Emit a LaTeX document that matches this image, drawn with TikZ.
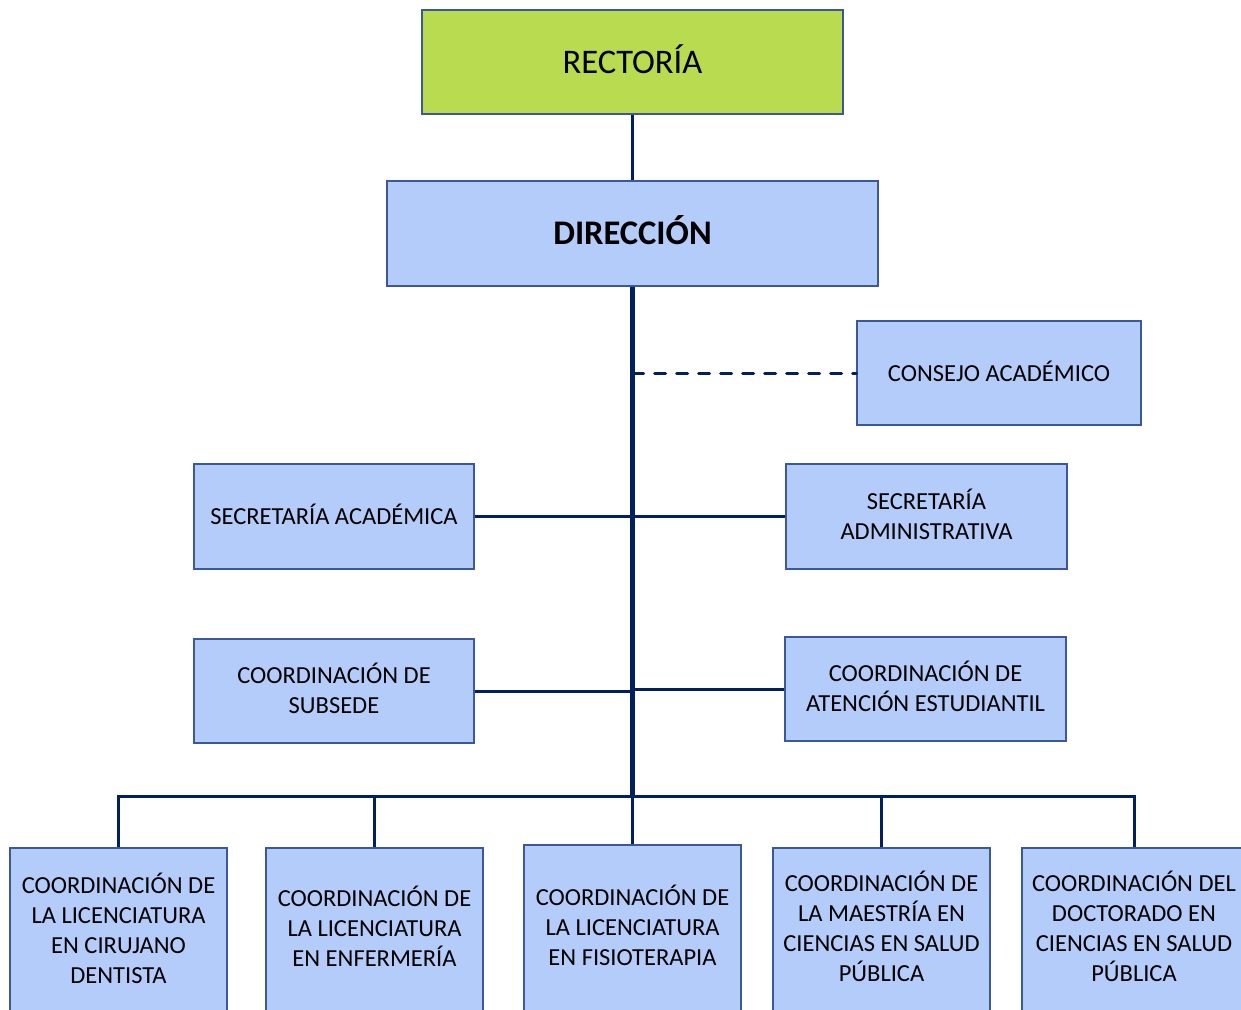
\documentclass[tikz,border=0pt]{standalone}
\usepackage{fontspec}
\setmainfont{Carlito}
\definecolor{rgreen}{RGB}{184,219,80}
\definecolor{bfill}{RGB}{180,204,250}
\definecolor{bdraw}{RGB}{60,88,150}
\definecolor{navy}{RGB}{0,32,96}
\tikzset{
  box/.style={draw=bdraw, line width=1.2pt, fill=bfill, inner sep=0pt, align=center,
    font=\fontsize{24.5}{30}\selectfont, text depth=6pt},
  bigbox/.style={box, font=\fontsize{34.5}{40}\selectfont},
  lowbox/.style={box, text depth=8pt},
  conn/.style={draw=navy, line width=3pt},
  trunk/.style={draw=navy, line width=5pt},
}
\begin{document}
\begin{tikzpicture}[x=1pt,y=-1pt]
\useasboundingbox (0,0) rectangle (1241,1009);
\clip (0,0) rectangle (1241,1009);
\node[bigbox, fill=rgreen, minimum width=421pt, minimum height=104pt] (rect) at (632.5,62) {RECTORÍA};
\node[bigbox, minimum width=491pt, minimum height=105pt, font=\fontsize{34.5}{40}\selectfont\bfseries] (dir) at (632.5,233.5) {DIRECCIÓN};
\node[box, minimum width=284pt, minimum height=104pt, text depth=4pt] (cons) at (999,373) {CONSEJO ACADÉMICO};
\node[box, minimum width=280pt, minimum height=105pt, text depth=4pt] (sac) at (334,516.5) {SECRETARÍA ACADÉMICA};
\node[box, minimum width=281pt, minimum height=105pt, text depth=5pt] (sad) at (926.5,516.5) {SECRETARÍA\\ADMINISTRATIVA};
\node[box, minimum width=280pt, minimum height=104pt, text depth=5pt] (sub) at (334,691) {COORDINACIÓN DE\\SUBSEDE};
\node[box, minimum width=281pt, minimum height=104pt, text depth=5pt] (ate) at (925.5,689) {COORDINACIÓN DE\\ATENCIÓN ESTUDIANTIL};
\node[lowbox, minimum width=217pt, minimum height=166pt, text depth=6pt] (c1) at (118.5,931) {COORDINACIÓN DE\\LA LICENCIATURA\\EN CIRUJANO\\DENTISTA};
\node[lowbox, minimum width=217pt, minimum height=166pt, text depth=9pt] (c2) at (374.5,931) {COORDINACIÓN DE\\LA LICENCIATURA\\EN ENFERMERÍA};
\node[lowbox, minimum width=217pt, minimum height=170pt, text depth=10pt] (c3) at (632.5,930) {COORDINACIÓN DE\\LA LICENCIATURA\\EN FISIOTERAPIA};
\node[lowbox, minimum width=217pt, minimum height=166pt, text depth=9pt] (c4) at (881.5,931) {COORDINACIÓN DE\\LA MAESTRÍA EN\\CIENCIAS EN SALUD\\PÚBLICA};
\node[lowbox, minimum width=224pt, minimum height=166pt, text depth=9pt] (c5) at (1134,931) {COORDINACIÓN DEL\\DOCTORADO EN\\CIENCIAS EN SALUD\\PÚBLICA};
\coordinate (bus) at (632.5,796);
\draw[conn] (rect.south) -- (dir.north);
\draw[trunk] (dir.south) -- (bus);
\draw[draw=navy, line width=2.5pt] (bus) -- (c3.north);
\draw[draw=navy, line width=3pt, dash pattern=on 11pt off 11pt, line cap=round] (cons.west -| dir.south) -- (cons.west);
\draw[conn] (sac.east) -- (sad.west);
\draw[conn] (sub.east) -- (sub.east -| dir.south);
\draw[conn] (ate.west) -- (ate.west -| dir.south);
\draw[conn] (c1.north) -- (c1.north |- bus) -- (c5.north |- bus) -- (c5.north);
\draw[conn] (c2.north) -- (c2.north |- bus);
\draw[conn] (c4.north) -- (c4.north |- bus);
\end{tikzpicture}
\end{document}
